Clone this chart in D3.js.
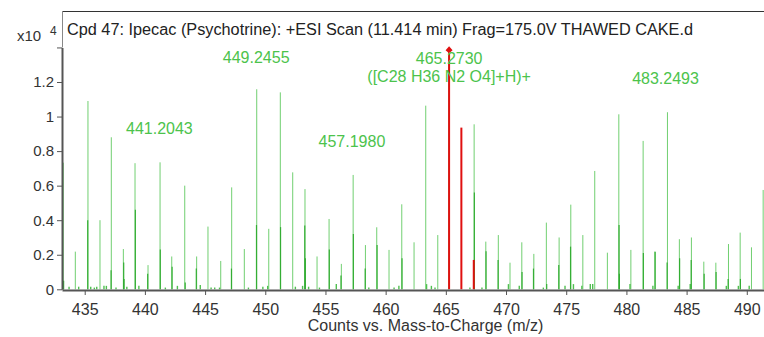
<!DOCTYPE html>
<html><head><meta charset="utf-8">
<script src="https://cdn.jsdelivr.net/npm/d3@7"></script>
<style>
body{margin:0;background:#fff;}
svg{display:block;font-family:"Liberation Sans",Arial,sans-serif;}
</style></head>
<body><svg id="c" width="764" height="337"></svg>
<script>
// ---- data (m/z, intensity x10^4) ----
const mainPeaks = [
 [433.22,0.733],[434.22,0.218],[435.27,1.09],[436.27,0.40],[437.21,0.88],[438.21,0.233],
 [439.18,0.73],[440.26,0.14],[441.26,0.735],[442.23,0.19],[443.31,0.60],[444.30,0.19],
 [445.24,0.363],[446.30,0.164],[447.21,0.59],[448.26,0.233],[449.29,1.158],[450.29,0.35],
 [451.25,1.14],[452.28,0.677],[453.30,0.58],[454.30,0.19],[455.30,0.407],[456.32,0.147],
 [457.30,0.662],[458.32,0.256],[459.26,0.359],[460.28,0.228],[461.34,0.492],[462.36,0.272],
 [463.33,1.063],[464.33,0.314],[465.24,1.39],[467.35,0.955],[468.32,0.276],[469.36,0.314],
 [470.33,0.154],[471.31,0.272],[472.31,0.205],[473.35,0.386],[474.41,0.30],[475.38,0.49],
 [476.38,0.314],[477.37,0.685],[478.42,0.212],[479.37,1.013],[480.37,0.228],[481.39,0.859],
 [482.36,0.218],[483.41,1.025],[484.40,0.29],[485.40,0.30],[486.43,0.16],[487.43,0.154],
 [488.48,0.262],[489.45,0.328],[490.39,0.243],[491.36,0.575]
];
const minorPeaks = [
 [433.25,0.05],[435.25,0.40],[437.19,0.11],[438.24,0.155],[438.27,0.06],[439.21,0.46],
 [440.23,0.09],[441.28,0.23],[442.26,0.13],[443.35,0.04],[444.27,0.12],[447.19,0.12],
 [449.27,0.372],[451.27,0.36],[453.28,0.37],[453.33,0.18],[455.32,0.23],[456.29,0.08],
 [457.32,0.32],[458.30,0.12],[459.29,0.256],[461.36,0.18],[467.37,0.56],[468.34,0.22],
 [469.34,0.17],[471.33,0.10],[472.28,0.12],[473.38,0.03],[474.38,0.14],[475.36,0.247],
 [479.39,0.372],[479.42,0.09],[481.41,0.21],[482.39,0.218],[483.38,0.155],[484.42,0.18],
 [485.38,0.17],[486.46,0.09],[487.45,0.10],[488.45,0.06],[489.47,0.06]
];
const noisePeaks = [
 [433.7,0.015],[434.5,0.015],[435.5,0.015],[435.8,0.01],[436.0,0.015],[436.6,0.02],[436.8,0.02],
 [437.6,0.01],[438.5,0.015],[439.5,0.02],[441.7,0.01],[442.7,0.02],[444.6,0.025],[445.5,0.01],
 [445.8,0.01],[446.2,0.01],[448.6,0.01],[449.8,0.015],[450.2,0.02],[452.5,0.015],[453.1,0.02],
 [453.6,0.015],[454.5,0.01],[455.9,0.03],[458.6,0.01],[460.7,0.01],[461.1,0.02],[463.4,0.03],
 [463.8,0.02],[464.1,0.01],[467.0,0.01],[468.0,0.01],[470.2,0.03],[471.1,0.02],[473.1,0.01],
 [474.9,0.02],[475.6,0.03],[476.3,0.02],[477.0,0.03],[477.2,0.03],[480.3,0.03],[482.2,0.02],
 [484.3,0.02],[485.3,0.03],[488.3,0.02],[489.3,0.02],[490.2,0.02]
];
const predictedPeaks = [[465.27,1.395],[466.29,0.936],[467.32,0.17]];
const peakLabels = [
 {mz:441.2043, y:0.9,   lines:["441.2043"]},
 {mz:449.2455, y:1.31,  lines:["449.2455"]},
 {mz:457.1980, y:0.825, lines:["457.1980"]},
 {mz:465.2730, y:1.305, lines:["465.2730","([C28 H36 N2 O4]+H)+"]},
 {mz:483.2493, y:1.19,  lines:["483.2493"]}
];
const xTicks = [435,440,445,450,455,460,465,470,475,480,485,490];
const yTicks = [0,0.2,0.4,0.6,0.8,1,1.2];
const yTickLabels = ["0","0.2","0.4","0.6","0.8","1","1.2"];
const titleText = "Cpd 47: Ipecac (Psychotrine): +ESI Scan (11.414 min) Frag=175.0V THAWED CAKE.d";
const xTitle = "Counts vs. Mass-to-Charge (m/z)";

// ---- drawing ----
const svg = d3.select("#c");
const L = 62, R = 764, T = 11;
const x = d3.scaleLinear().domain([433.114, 491.43]).range([L, R]);
const y = d3.scaleLinear().domain([0, 1.4]).range([289.3, 47.45]);

svg.append("defs").append("clipPath").attr("id","pc")
  .append("rect").attr("x",L).attr("y",T).attr("width",R-L).attr("height",290-T);

// frame
svg.append("line").attr("x1",L).attr("x2",R).attr("y1",T+0.5).attr("y2",T+0.5).attr("stroke","#333");
svg.append("line").attr("x1",L+0.5).attr("x2",L+0.5).attr("y1",T).attr("y2",y(1.4)).attr("stroke","#888");

// title
svg.append("text").attr("x",67).attr("y",35).attr("font-size",16).attr("fill","#222")
  .attr("textLength",626).attr("lengthAdjust","spacingAndGlyphs").text(titleText);

const g = svg.append("g").attr("clip-path","url(#pc)");
function sticks(data, color, width, opacity){
  g.append("g").selectAll("line").data(data).join("line")
   .attr("x1",d=>x(d[0])).attr("x2",d=>x(d[0]))
   .attr("y1",y(0)).attr("y2",d=>y(d[1]))
   .attr("stroke",color).attr("stroke-width",width).attr("stroke-opacity",opacity);
}
sticks(noisePeaks, "#3cb83c", 1.4, 0.9);
sticks(mainPeaks, "#4ec34e", 1, 0.8);
sticks(minorPeaks, "#2aa82a", 1.2, 0.9);
sticks(predictedPeaks, "#e01010", 2, 1);
// arrow head on base peak
const bp = predictedPeaks[0];
svg.append("path")
  .attr("d", `M${x(bp[0])},${y(bp[1])-2} l-3.5,4 l3.5,3 l3.5,-3 z`)
  .attr("fill","#e01010");

// axes
const xa = svg.append("g").attr("transform",`translate(0,${y(0)+0.7})`)
  .call(d3.axisBottom(x).tickValues(xTicks).tickSize(5).tickSizeOuter(0).tickFormat(d3.format("d")));
xa.select(".domain").attr("stroke","#555").attr("stroke-width",2);
xa.selectAll(".tick line").attr("stroke","#555");
xa.selectAll("text").attr("font-size",16).attr("fill","#333").attr("dy","1.05em")
  .attr("font-family","Liberation Sans, Arial, sans-serif");

const ya = svg.append("g").attr("transform",`translate(${L},0)`)
  .call(d3.axisLeft(y).tickValues(yTicks.concat([1.4])).tickSize(5).tickSizeOuter(0)
     .tickFormat(d=>{const i=yTicks.indexOf(d);return i>=0?yTickLabels[i]:"";}));
ya.select(".domain").attr("stroke","#555").attr("stroke-width",2);
ya.selectAll(".tick line").attr("stroke","#555");
ya.selectAll("text").attr("font-size",15).attr("fill","#333").attr("x",-8)
  .attr("font-family","Liberation Sans, Arial, sans-serif");

// exponent
svg.append("text").attr("x",17).attr("y",41).attr("font-size",15).attr("fill","#333").text("x10");
svg.append("text").attr("x",50).attr("y",35).attr("font-size",12).attr("fill","#333").text("4");

// x axis title
svg.append("text").attr("x",425.5).attr("y",331).attr("text-anchor","middle")
  .attr("font-size",16).attr("fill","#333").text(xTitle);

// peak labels
peakLabels.forEach(p=>{
  const t = svg.append("text").attr("text-anchor","middle").attr("fill","#4cc34c").attr("font-size",16);
  p.lines.forEach((s,i)=>{
    t.append("tspan").attr("x",x(p.mz)).attr("y",y(p.y)+i*18).text(s);
  });
});
</script></body></html>
